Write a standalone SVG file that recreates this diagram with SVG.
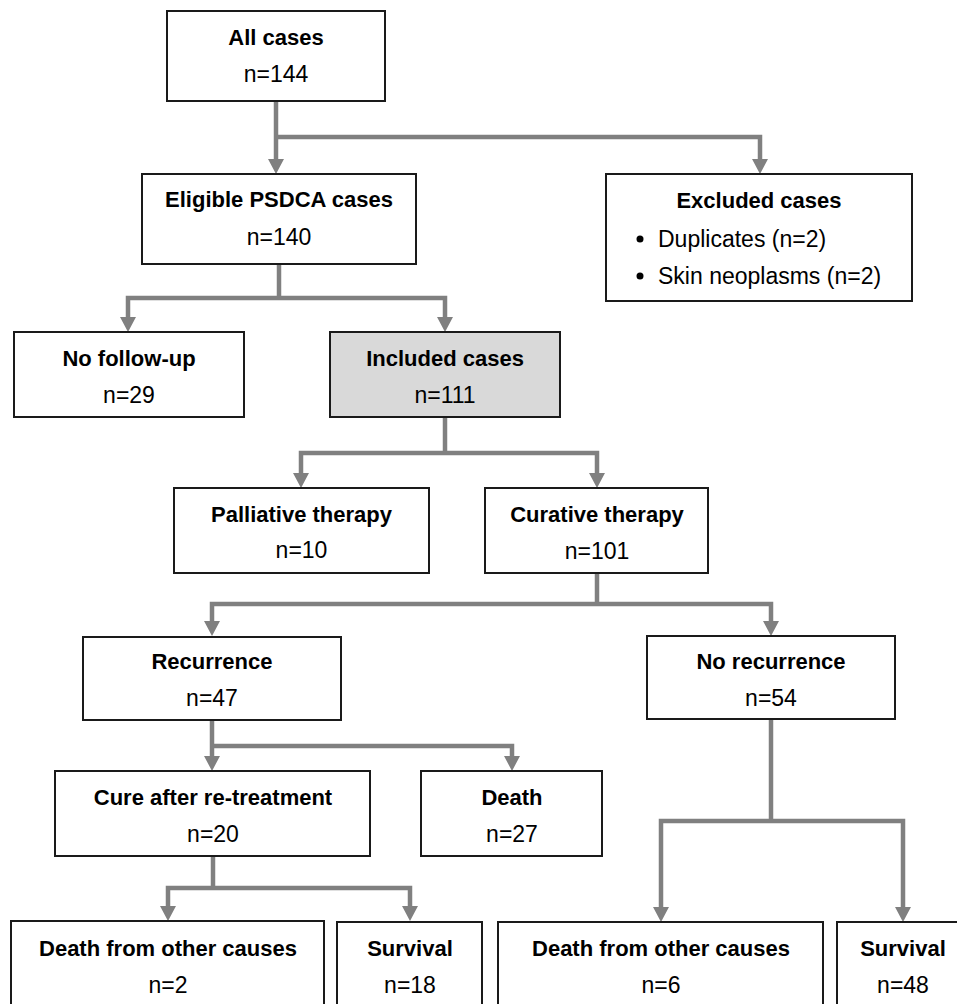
<svg xmlns="http://www.w3.org/2000/svg" width="957" height="1004" viewBox="0 0 957 1004">
<style>
.box{fill:#ffffff;stroke:#1a1a1a;stroke-width:2}
.hl{fill:#d9d9d9}
.t{font-family:"Liberation Sans",Arial,sans-serif;font-size:22px;font-weight:bold;fill:#000;text-anchor:middle}
.n{font-family:"Liberation Sans",Arial,sans-serif;font-size:23px;fill:#000;text-anchor:middle}
.l{font-family:"Liberation Sans",Arial,sans-serif;font-size:23px;fill:#000}
.c{fill:none;stroke:#808080;stroke-width:4.5;marker-end:url(#ah)}
.c2{fill:none;stroke:#808080;stroke-width:4.5;marker-start:url(#ah);marker-end:url(#ah)}
.p{fill:none;stroke:#808080;stroke-width:4.5}
</style>
<defs>
<marker id="ah" markerUnits="userSpaceOnUse" viewBox="0 0 15 16" refX="0" refY="8" markerWidth="15" markerHeight="16" orient="auto-start-reverse">
<path d="M0,0 L15,8 L0,16 z" fill="#808080"/>
</marker>
</defs>
<rect width="957" height="1004" fill="#ffffff"/>
<g id="connectors">
<path class="c" d="M276,101 V159"/>
<path class="c" d="M276,137 H760 V159"/>
<path class="p" d="M279,264 V298"/>
<path class="c2" d="M128,317 V298 H445 V317"/>
<path class="p" d="M445,417 V453"/>
<path class="c2" d="M301,473 V453 H597 V473"/>
<path class="p" d="M597,573 V604"/>
<path class="c2" d="M212,621 V604 H771 V621"/>
<path class="c" d="M212,720 V756"/>
<path class="c" d="M212,746 H512 V756"/>
<path class="p" d="M213,856 V888"/>
<path class="c2" d="M168,906 V888 H410 V906"/>
<path class="p" d="M771,719 V821"/>
<path class="c2" d="M661,907 V821 H903 V907"/>
</g>
<g id="all-cases">
<rect class="box" x="167" y="11" width="218" height="90"/>
<text class="t" x="276" y="45">All cases</text>
<text class="n" x="276" y="82">n=144</text>
</g>
<g id="eligible">
<rect class="box" x="142" y="174" width="274" height="90"/>
<text class="t" x="279" y="207">Eligible PSDCA cases</text>
<text class="n" x="279" y="245">n=140</text>
</g>
<g id="excluded">
<rect class="box" x="606" y="174" width="306" height="127"/>
<text class="t" x="759" y="208">Excluded cases</text>
<circle cx="640" cy="239" r="3.5" fill="#000"/>
<text class="l" x="658" y="247">Duplicates (n=2)</text>
<circle cx="640" cy="276" r="3.5" fill="#000"/>
<text class="l" x="658" y="284">Skin neoplasms (n=2)</text>
</g>
<g id="no-follow-up">
<rect class="box" x="14" y="332" width="230" height="85"/>
<text class="t" x="129" y="366">No follow-up</text>
<text class="n" x="129" y="403">n=29</text>
</g>
<g id="included">
<rect class="box hl" x="330" y="332" width="230" height="85"/>
<text class="t" x="445" y="366">Included cases</text>
<text class="n" x="445" y="403">n=111</text>
</g>
<g id="palliative">
<rect class="box" x="174" y="488" width="255" height="85"/>
<text class="t" x="301.5" y="522">Palliative therapy</text>
<text class="n" x="301.5" y="558">n=10</text>
</g>
<g id="curative">
<rect class="box" x="485" y="488" width="223" height="85"/>
<text class="t" x="597" y="522">Curative therapy</text>
<text class="n" x="597" y="559">n=101</text>
</g>
<g id="recurrence">
<rect class="box" x="83" y="637" width="258" height="83"/>
<text class="t" x="212" y="669">Recurrence</text>
<text class="n" x="212" y="706">n=47</text>
</g>
<g id="no-recurrence">
<rect class="box" x="647" y="636" width="248" height="83"/>
<text class="t" x="771" y="669">No recurrence</text>
<text class="n" x="771" y="706">n=54</text>
</g>
<g id="cure">
<rect class="box" x="55" y="771" width="315" height="85"/>
<text class="t" x="213" y="805">Cure after re-treatment</text>
<text class="n" x="213" y="842">n=20</text>
</g>
<g id="death">
<rect class="box" x="421" y="771" width="181" height="85"/>
<text class="t" x="512" y="805">Death</text>
<text class="n" x="512" y="842">n=27</text>
</g>
<g id="death-other-left">
<rect class="box" x="11" y="921" width="313" height="95"/>
<text class="t" x="168" y="956">Death from other causes</text>
<text class="n" x="168" y="993">n=2</text>
</g>
<g id="survival-left">
<rect class="box" x="337" y="922" width="145" height="95"/>
<text class="t" x="410" y="956">Survival</text>
<text class="n" x="410" y="993">n=18</text>
</g>
<g id="death-other-right">
<rect class="box" x="498" y="922" width="325" height="95"/>
<text class="t" x="661" y="956">Death from other causes</text>
<text class="n" x="661" y="993">n=6</text>
</g>
<g id="survival-right">
<rect class="box" x="837" y="922" width="140" height="95"/>
<text class="t" x="903" y="956">Survival</text>
<text class="n" x="903" y="993">n=48</text>
</g>
</svg>
